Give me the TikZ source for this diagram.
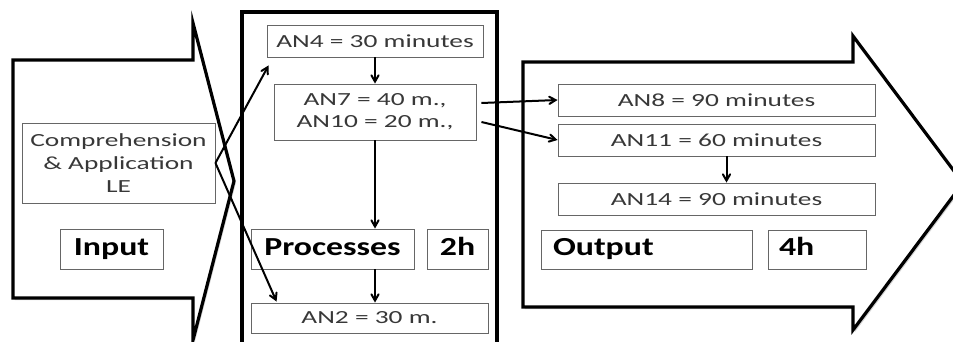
\documentclass[tikz,border=0pt]{standalone}
\usepackage{fontspec}
\setmainfont{Carlito}[FakeStretch=1.48,BoldFeatures={FakeStretch=1.3}]
\usepackage{tikz}
\usetikzlibrary{arrows,shadows}

\begin{document}
\begin{tikzpicture}
[->,>=angle 60,x=1pt,y=-1pt,line width=2pt]
  \tikzstyle{box}=[draw=black!60,line width=0.9pt,fill=white,text=black!78,align=center,inner sep=0pt,font=\fontsize{18.5}{22}\selectfont,drop shadow={shadow xshift=1pt,shadow yshift=-1.2pt,fill=black!20}]
  \tikzstyle{headbox}=[draw=black!60,line width=0.9pt,fill=white,text=black,inner sep=0pt,minimum height=40pt,text height=17pt,text depth=5pt,font=\fontsize{26}{28}\selectfont\bfseries,drop shadow={shadow xshift=1pt,shadow yshift=-1.2pt,fill=black!20}]
  \tikzstyle{bigshape}=[-,draw=black,line width=3.2pt,fill=white,drop shadow={shadow xshift=1.8pt,shadow yshift=-2.2pt,fill=black!35}]

  \useasboundingbox (0,0) rectangle (953,342);

  % input arrow, process frame, output arrow
  \filldraw[bigshape] (13,60) -- (193,60) -- (193,23) -- (234,181) -- (193,340) -- (193,298) -- (13,298) -- cycle;
  \filldraw[bigshape] (242,12) rectangle (497,352);
  \filldraw[bigshape] (523,62) -- (853,62) -- (853,36) -- (963,183) -- (853,330) -- (853,307) -- (523,307) -- cycle;

  \node[box,minimum width=193pt,minimum height=80pt] (LE) at (118.5,163) {Comprehension\\[1pt] \& Application\\[1pt] LE};
  \node[headbox,minimum width=103pt] (In) at (111.5,249) {Input};

  \node[box,minimum width=216pt,minimum height=32pt] (AN4) at (375,41) {AN4 = 30 minutes};
  \node[box,minimum width=202pt,minimum height=56pt] (AN7) [below of=AN4,node distance=71pt] {AN7 = 40 m.,\\ AN10 = 20 m.,};
  \node[headbox,minimum width=163pt] (P) at (332.5,249) {Processes};
  \node[headbox,minimum width=61pt] (H2) [right of=P,node distance=125pt] {2h};
  \node[box,minimum width=237pt,minimum height=30pt] (AN2) at (369.5,318) {AN2 = 30 m.};

  \node[box,minimum width=317pt,minimum height=32pt] (AN8) at (716.5,100) {AN8 = 90 minutes};
  \node[box,minimum width=317pt,minimum height=32pt] (AN11) [below of=AN8,node distance=40pt] {AN11 = 60 minutes};
  \node[box,minimum width=317pt,minimum height=32pt] (AN14) [below of=AN11,node distance=59pt] {AN14 = 90 minutes};
  \node[headbox,text width=187pt,inner xsep=12pt,minimum height=39pt,align=left] (O) at (646.5,249.5) {Output};
  \node[headbox,text width=76pt,inner xsep=11pt,minimum height=39pt,align=left] (H4) at (817,249.5) {4h};

  \path (LE.east) edge ([shift={(2,8)}]AN4.south west)
        (LE.east) edge ([shift={(26,-1)}]AN2.north west)
        (AN4) edge (AN7)
        (AN7) edge (AN7 |- P.north)
        (P.south -| AN7) edge (AN7 |- AN2.north)
        ([shift={(5,-9)}]AN7.east) edge (AN8.west)
        ([shift={(5,10)}]AN7.east) edge (AN11.west)
        ([xshift=10pt]AN11.south) edge ([xshift=10pt]AN14.north)
        ;
\end{tikzpicture}
\end{document}
